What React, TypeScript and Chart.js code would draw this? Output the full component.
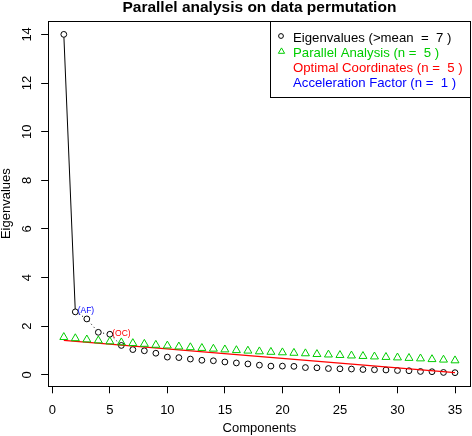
import React, { useEffect, useRef } from "react";
import { Chart, registerables } from "chart.js";

Chart.register(...registerables);

const FONT = '"Liberation Sans", Arial, Helvetica, sans-serif';

// ---- data ----
const components = [
  1, 2, 3, 4, 5, 6, 7, 8, 9, 10, 11, 12, 13, 14, 15, 16, 17, 18, 19, 20,
  21, 22, 23, 24, 25, 26, 27, 28, 29, 30, 31, 32, 33, 34, 35,
];
const eigenvalues = [
  14.0, 2.59, 2.3, 1.75, 1.67, 1.21, 1.04, 0.99, 0.89, 0.73, 0.71, 0.65, 0.6,
  0.58, 0.53, 0.49, 0.45, 0.4, 0.36, 0.36, 0.35, 0.3, 0.29, 0.26, 0.25, 0.24,
  0.22, 0.21, 0.2, 0.18, 0.17, 0.14, 0.13, 0.1, 0.09,
];
const parallelAnalysis = [
  1.55, 1.5, 1.45, 1.41, 1.37, 1.33, 1.3, 1.27, 1.23, 1.2, 1.16, 1.13, 1.1,
  1.07, 1.04, 1.01, 0.99, 0.96, 0.94, 0.92, 0.9, 0.88, 0.85, 0.83, 0.81, 0.79,
  0.77, 0.75, 0.73, 0.71, 0.69, 0.67, 0.64, 0.62, 0.59,
];
const ocLineX = [1, 35];
const ocLineY = [1.42, 0.09];
const xTicks = [0, 5, 10, 15, 20, 25, 30, 35];
const yTicks = [0, 2, 4, 6, 8, 10, 12, 14];
const afComponent = 2;
const ocComponent = 5;
const dottedFrom = 2;
const dottedTo = 6;
const legendLabels = [
  "Eigenvalues (>mean  =  7 )",
  "Parallel Analysis (n =  5 )",
  "Optimal Coordinates (n =  5 )",
  "Acceleration Factor (n =  1 )",
];
const legendColors = ["#000000", "#00CD00", "#FF0000", "#0000FF"];
const titleText = "Parallel analysis on data permutation";
const xTitle = "Components";
const yTitle = "Eigenvalues";

const decorPlugin = {
  id: "decor",
  afterDraw(chart: any) {
    const { ctx, chartArea: a, scales } = chart;
    ctx.save();
    // plot box
    ctx.strokeStyle = "#000";
    ctx.lineWidth = 1;
    const L = Math.round(a.left) + 0.5;
    const T = Math.round(a.top) + 0.5;
    const R = Math.round(a.right) - 0.5;
    const B = Math.round(a.bottom) + 0.5;
    ctx.strokeRect(L, T, R - L, B - T);

    const cx = (a.left + a.right) / 2;
    const cy = (a.top + a.bottom) / 2;

    // title
    ctx.fillStyle = "#000";
    ctx.font = `bold 15.5px ${FONT}`;
    ctx.textAlign = "center";
    ctx.textBaseline = "middle";
    ctx.fillText(titleText, cx, 7.5);

    // x title
    ctx.font = `13px ${FONT}`;
    ctx.fillText(xTitle, cx, 428);

    // y title
    ctx.save();
    ctx.translate(6, cy);
    ctx.rotate(-Math.PI / 2);
    ctx.fillText(yTitle, 0, 0);
    ctx.restore();

    // y tick labels (rotated like R)
    for (const v of yTicks) {
      const py = scales.y.getPixelForValue(v);
      ctx.save();
      ctx.translate(27, py);
      ctx.rotate(-Math.PI / 2);
      ctx.fillText(String(v), 0, 0);
      ctx.restore();
    }

    // AF / OC labels
    ctx.font = `8.5px ${FONT}`;
    ctx.textAlign = "left";
    ctx.textBaseline = "alphabetic";
    const afX = scales.x.getPixelForValue(afComponent);
    const afY = scales.y.getPixelForValue(eigenvalues[afComponent - 1]);
    ctx.fillStyle = "#0000FF";
    ctx.fillText(" (AF)", afX, afY + 1.5);
    const ocX = scales.x.getPixelForValue(ocComponent);
    const ocY = scales.y.getPixelForValue(eigenvalues[ocComponent - 1]);
    ctx.fillStyle = "#FF0000";
    ctx.fillText(" (OC)", ocX, ocY + 1.5);

    // legend
    const lx = 270.5;
    const ly = T;
    const lr = R;
    const lb = 97.5;
    ctx.fillStyle = "#fff";
    ctx.fillRect(lx, ly, lr - lx, lb - ly);
    ctx.strokeStyle = "#000";
    ctx.strokeRect(lx, ly, lr - lx, lb - ly);
    ctx.font = `13.2px ${FONT}`;
    ctx.textBaseline = "middle";
    const rows = [38, 53, 68, 83];
    legendLabels.forEach((t, i) => {
      ctx.fillStyle = legendColors[i];
      ctx.fillText(t, 293, rows[i]);
    });
    // legend symbols
    ctx.lineWidth = 1;
    ctx.strokeStyle = legendColors[0];
    ctx.beginPath();
    ctx.arc(281, 36, 2.4, 0, Math.PI * 2);
    ctx.stroke();
    ctx.strokeStyle = legendColors[1];
    const tr = 3.6;
    const tx = 281.5;
    const ty = 51.5;
    ctx.beginPath();
    ctx.moveTo(tx, ty - tr);
    ctx.lineTo(tx + tr * Math.sin((2 * Math.PI) / 3), ty + tr / 2);
    ctx.lineTo(tx - tr * Math.sin((2 * Math.PI) / 3), ty + tr / 2);
    ctx.closePath();
    ctx.stroke();
    ctx.restore();
  },
};

export default function App() {
  const ref = useRef<HTMLCanvasElement | null>(null);

  useEffect(() => {
    document.body.style.margin = "0";
    const canvas = ref.current;
    if (!canvas) return;

    const eigPts = components.map((c, i) => ({ x: c, y: eigenvalues[i] }));
    const paPts = components.map((c, i) => ({ x: c, y: parallelAnalysis[i] }));
    const ocPts = ocLineX.map((x, i) => ({ x, y: ocLineY[i] }));
    const afPts = eigPts.slice(0, afComponent);
    const dotPts = eigPts.slice(dottedFrom - 1, dottedTo);

    const chart = new Chart(canvas, {
      type: "scatter",
      data: {
        datasets: [
          {
            label: "Parallel Analysis",
            data: paPts,
            showLine: false,
            pointStyle: "triangle",
            pointRadius: 4.6,
            pointBorderColor: "#00CD00",
            pointBackgroundColor: "rgba(0,0,0,0)",
            pointBorderWidth: 1,
            order: 0,
          },
          {
            label: "Optimal Coordinates",
            data: ocPts,
            showLine: true,
            borderColor: "#FF0000",
            borderWidth: 1.2,
            pointRadius: 0,
            order: 1,
          },
          {
            label: "Eigenvalues",
            data: eigPts,
            showLine: false,
            pointStyle: "circle",
            pointRadius: 2.9,
            pointBorderColor: "#000",
            pointBackgroundColor: "#fff",
            pointBorderWidth: 1,
            order: 2,
          },
          {
            label: "dotted",
            data: dotPts,
            showLine: true,
            borderColor: "#000",
            borderWidth: 1,
            borderDash: [1, 3],
            pointRadius: 0,
            order: 3,
          },
          {
            label: "AF",
            data: afPts,
            showLine: true,
            borderColor: "#000",
            borderWidth: 1,
            pointRadius: 0,
            order: 4,
          },
        ],
      } as any,
      options: {
        animation: false,
        responsive: false,
        devicePixelRatio: 1,
        events: [],
        layout: {
          autoPadding: false,
          padding: { top: 21, right: 1.35, left: 0, bottom: 0 },
        },
        plugins: {
          legend: { display: false },
          tooltip: { enabled: false },
          title: { display: false },
        },
        scales: {
          x: {
            type: "linear",
            position: "bottom",
            min: -0.36,
            max: 36.36,
            afterBuildTicks: (s: any) => {
              s.ticks = xTicks.map((v) => ({ value: v }));
            },
            afterFit: (s: any) => {
              s.height = 49.7;
              s.paddingLeft = 0;
              s.paddingRight = 0;
            },
            grid: {
              display: true,
              drawOnChartArea: false,
              drawTicks: true,
              tickLength: 7,
              color: "#000",
              lineWidth: 1,
            },
            border: { display: false },
            ticks: {
              color: "#000",
              font: { size: 13, family: FONT },
              padding: 9.5,
              maxRotation: 0,
              minRotation: 0,
              autoSkip: false,
            },
          },
          y: {
            type: "linear",
            position: "left",
            min: -0.47,
            max: 14.55,
            afterBuildTicks: (s: any) => {
              s.ticks = yTicks.map((v) => ({ value: v }));
            },
            afterFit: (s: any) => {
              s.width = 48.16;
              s.paddingTop = 0;
              s.paddingBottom = 0;
            },
            grid: {
              display: true,
              drawOnChartArea: false,
              drawTicks: true,
              tickLength: 7,
              color: "#000",
              lineWidth: 1,
            },
            border: { display: false },
            ticks: { display: false },
          },
        },
      } as any,
      plugins: [decorPlugin],
    });

    return () => {
      chart.destroy();
    };
  }, []);

  return (
    <canvas
      ref={ref}
      width={472}
      height={436}
      style={{ display: "block", width: 472, height: 436 }}
    />
  );
}
